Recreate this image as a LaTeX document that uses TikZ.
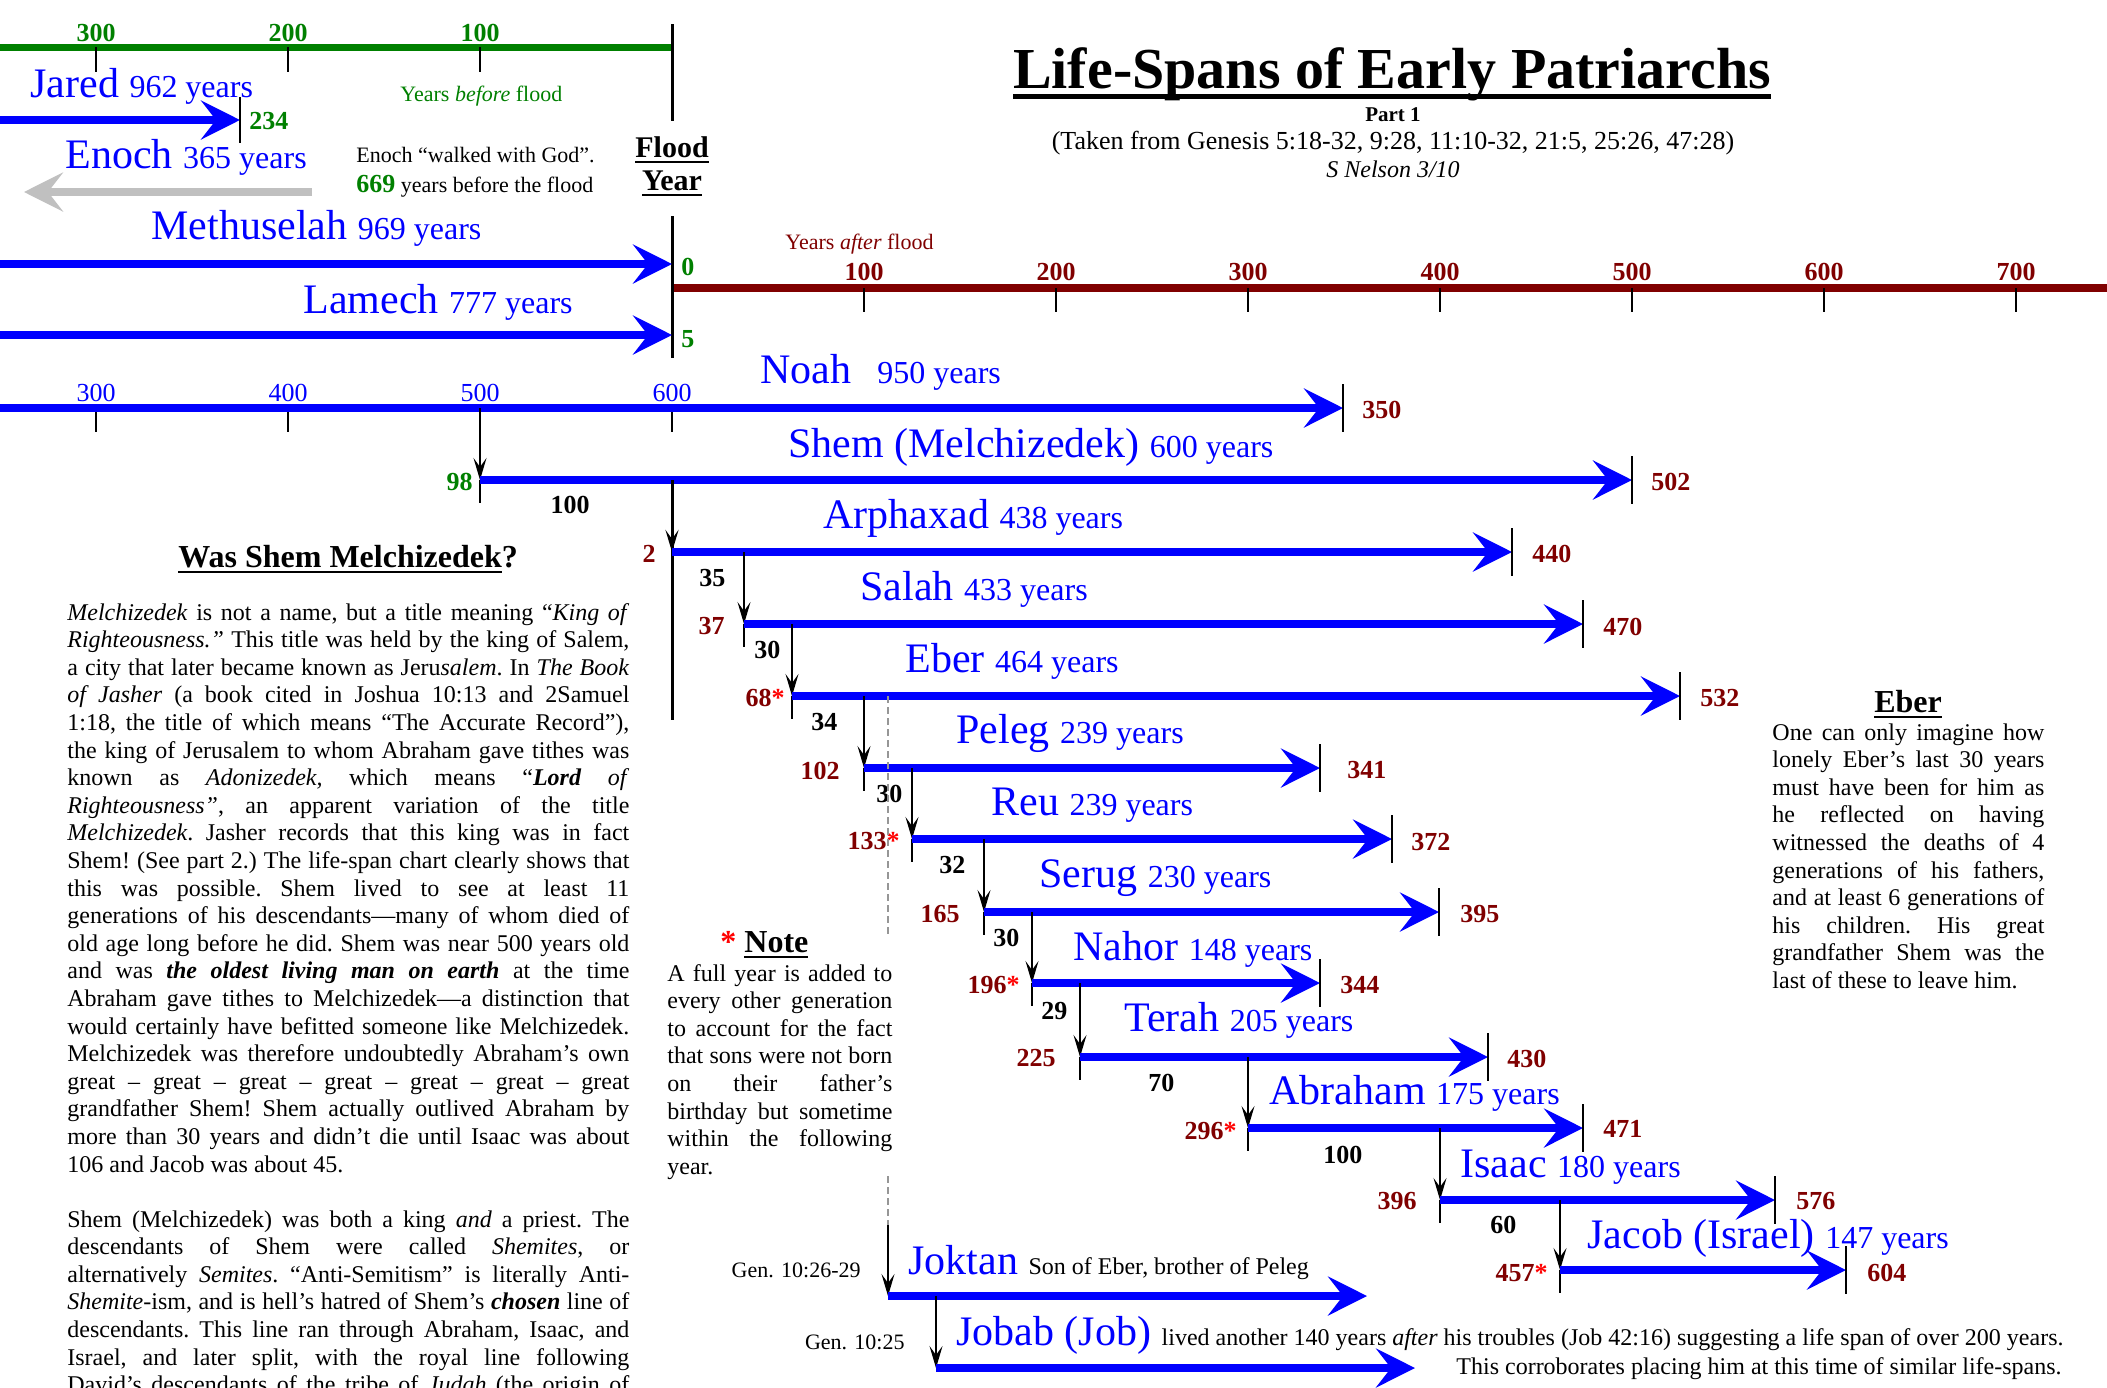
\documentclass[tikz,border=0pt]{standalone}
\usepackage{fontspec}
\setmainfont{Liberation Serif}
\usetikzlibrary{arrows.meta}

\definecolor{agered}{RGB}{128,0,0}
\definecolor{floodgreen}{RGB}{0,128,0}
\definecolor{enochgray}{RGB}{192,192,192}
\definecolor{dashgray}{RGB}{150,150,150}

\newcommand{\namefont}{\fontsize{21}{25}\selectfont}
\newcommand{\yearfont}{\fontsize{16}{19}\selectfont}
\newcommand{\numfont}{\fontsize{13}{15}\selectfont\bfseries}
\newcommand{\smallfont}{\fontsize{11}{13}\selectfont}
\newcommand{\bodyfont}{\fontsize{12}{13.8}\selectfont\frenchspacing}
\newcommand{\headfont}{\fontsize{16}{19}\selectfont\bfseries}
\newcommand{\adj}{\textcolor{red}{*}} % a year added

\newsavebox{\rulebox}
\newcommand{\ruled}[3]{% #1: depth of rule, #2: thickness, #3: text
    \sbox{\rulebox}{#3}\rlap{\rule[-#1]{\wd\rulebox}{#2}}\usebox{\rulebox}}
\newcommand{\jline}[1]{\makebox[\linewidth][s]{#1}\par} % one justified line

\begin{document}
\begin{tikzpicture}[
    x=0.5pt, y=-0.5pt,
    life/.style={blue, line width=4pt, -{Stealth[length=19.5pt, width=19.5pt, inset=7.5pt]}},
    taken/.style={life, enochgray},
    drop/.style={black, line width=0.75pt, -{Stealth[length=11pt, width=6.5pt, inset=4.5pt]}},
    endtick/.style={black, line width=0.75pt},
    floodline/.style={black, line width=1.5pt},
    hint/.style={dashgray, line width=0.6pt, dash pattern=on 3.3pt off 2.2pt},
    who/.style={anchor=base west, inner sep=0pt, text=blue},
    death/.style={anchor=base west, inner sep=0pt, text=agered, font=\numfont},
    birth/.style={anchor=base east, inner sep=0pt, text=agered, font=\numfont},
    gapnum/.style={anchor=base west, inner sep=0pt, font=\numfont},
    textline/.style={anchor=base west, inner sep=0pt, font=\smallfont},
    axislabel/.style={anchor=base, inner sep=0pt, font=\numfont}
]

    % Page
    \fill[white] (0,0) rectangle (2107,1387);
    \useasboundingbox (0,0) rectangle (2107,1387);

    % Title block
    \node[anchor=base, inner sep=0pt, font=\fontsize{29}{34}\selectfont\bfseries] (title) at (1392,88) {\ruled{5.5pt}{2.5pt}{Life-Spans of Early Patriarchs}};
    \node[anchor=base, inner sep=0pt, font=\fontsize{10.5}{12}\selectfont\bfseries] (part) at (1393,121) {Part 1};
    \node[anchor=base, inner sep=0pt, font=\fontsize{13}{15}\selectfont] (source) at (1393,149) {(Taken from Genesis 5:18-32, 9:28, 11:10-32, 21:5, 25:26, 47:28)};
    \node[anchor=base, inner sep=0pt, font=\fontsize{12}{14}\selectfont\itshape] (author) at (1393,177) {S Nelson 3/10};

    % Years before flood
    \draw[floodgreen, line width=3.5pt] (0,47) -- (672,47);
    \foreach \x/\yr in {96/300, 288/200, 480/100} {
        \draw[endtick] (\x,47) -- (\x,72);
        \node[axislabel, text=floodgreen] (before\yr) at (\x,41) {\yr};
    }
    \node[textline, text=floodgreen] (beforelabel) at (400,101) {Years \textit{before} flood};

    % Years after flood
    \draw[agered, line width=3.8pt] (672,288) -- (2107,288);
    \foreach \k in {1,...,7} {
        \draw[endtick] (672+192*\k,288) -- (672+192*\k,312);
        \node[axislabel, text=agered] (after\k) at (672+192*\k,280) {\k00};
    }
    \node[textline, text=agered] (afterlabel) at (785,249) {Years \textit{after} flood};

    % Flood year
    \coordinate (floodA) at (672,24);
    \coordinate (floodB) at (672,121);
    \coordinate (floodC) at (672,216);
    \coordinate (floodD) at (672,358);
    \draw[floodline] (floodA) -- (floodB);
    \draw[floodline] (floodC) -- (floodD);
    \node[anchor=base, inner sep=0pt, font=\fontsize{15}{18}\selectfont\bfseries] (flood) at (672,157) {\ruled{3pt}{0.9pt}{Flood}};
    \node[anchor=base, inner sep=0pt, font=\fontsize{15}{18}\selectfont\bfseries] (floodyear) at (672,190) {\ruled{3pt}{0.9pt}{Year}};

    % Jared
    \coordinate (jaredS) at (0,120);
    \coordinate (jaredE) at (240,120);
    \draw[life] (jaredS) -- (jaredE);
    \draw[endtick] (jaredE) ++(0,-23) -- ++(0,46);
    \node[who] (jared) at (30,97) {\namefont Jared \yearfont 962 years};
    \node[gapnum, text=floodgreen] (jared-d) at (249,129) {234};

    % Enoch, taken by God
    \coordinate (enochS) at (312,192);
    \coordinate (enochE) at (24,192);
    \draw[taken] (enochS) -- (enochE);
    \node[who] (enoch) at (65,168) {\namefont Enoch \yearfont 365 years};
    \node[textline] (walked) at (356,162) {Enoch “walked with God”.};
    \node[textline] (walked2) at (356,192) {{\color{floodgreen}\numfont 669} years before the flood};

    % Methuselah and Lamech
    \coordinate (methuselahS) at (0,264);
    \coordinate (methuselahE) at (672,264);
    \draw[life] (methuselahS) -- (methuselahE);
    \node[who] (methuselah) at (151,239) {\namefont Methuselah \yearfont 969 years};
    \node[gapnum, text=floodgreen] (methuselah-d) at (681,275) {0};
    \coordinate (lamechS) at (0,335);
    \coordinate (lamechE) at (672,335);
    \draw[life] (lamechS) -- (lamechE);
    \node[who] (lamech) at (303,313) {\namefont Lamech \yearfont 777 years};
    \node[gapnum, text=floodgreen] (lamech-d) at (681,347) {5};

    % Noah with his own age scale
    \coordinate (noahS) at (0,408);
    \coordinate (noahE) at (1343,408);
    \foreach \x/\age in {96/300, 288/400, 480/500, 672/600} {
        \draw[endtick] (\x,408) -- (\x,432);
        \node[axislabel, text=blue, font=\fontsize{13}{15}\selectfont] (age\age) at (\x,401) {\age};
    }
    \draw[life] (noahS) -- (noahE);
    \draw[endtick] (noahE) ++(0,-24) -- ++(0,48);
    \node[who] (noah) at (760,383) {\namefont Noah\hspace{13pt}\yearfont 950 years};
    \node[death] (noah-d) at (1362,418) {350};

    % Shem
    \coordinate (shemS) at (480,480);
    \coordinate (shemE) at (1632,480);
    \draw[drop] (shemS |- noahS) -- (shemS);
    \draw[endtick] (shemS) -- ++(0,23);
    \draw[life] (shemS) -- (shemE);
    \draw[endtick] (shemE) ++(0,-24) -- ++(0,48);
    \node[who] (shem) at (788,457) {\namefont Shem (Melchizedek) \yearfont 600 years};
    \node[birth, text=floodgreen] (shem-b) at (473,490) {98};
    \node[gapnum, anchor=base] (shem-g) at (570,513) {100};
    \node[death] (shem-d) at (1651,490) {502};

    % Arphaxad, on the flood line
    \coordinate (arphaxadS) at (672,552);
    \coordinate (arphaxadE) at (1512,552);
    \coordinate (floodE) at (672,720);
    \draw[floodline] (arphaxadS |- shemS) -- (floodE);
    \draw[drop, line width=1.5pt] (arphaxadS |- shemS) -- (arphaxadS);
    \draw[life] (arphaxadS) -- (arphaxadE);
    \draw[endtick] (arphaxadE) ++(0,-24) -- ++(0,48);
    \node[who] (arphaxad) at (823,528) {\namefont Arphaxad \yearfont 438 years};
    \node[birth] (arphaxad-b) at (656,562) {2};
    \node[death] (arphaxad-d) at (1532,562) {440};

    % Line from Arphaxad to Jacob
    \foreach \who/\up/\x/\y/\xe in {
        salah/arphaxad/744/624/1583,
        eber/salah/792/696/1680,
        peleg/eber/864/768/1320,
        reu/peleg/912/839/1392,
        serug/reu/984/912/1439,
        nahor/serug/1032/983/1320,
        terah/nahor/1080/1057/1488,
        abraham/terah/1248/1128/1583,
        isaac/abraham/1440/1200/1775,
        jacob/isaac/1560/1270/1846} {
        \coordinate (\who S) at (\x,\y);
        \coordinate (\who E) at (\xe,\y);
        \draw[drop] (\who S |- \up S) -- (\who S);
        \draw[endtick] (\who S) -- ++(0,23);
        \draw[life] (\who S) -- (\who E);
        \draw[endtick] (\who E) ++(0,-24) -- ++(0,48);
    }

    % Names
    \node[who] (salah) at (860,600) {\namefont Salah \yearfont 433 years};
    \node[who] (eber) at (905,672) {\namefont Eber \yearfont 464 years};
    \node[who] (peleg) at (956,743) {\namefont Peleg \yearfont 239 years};
    \node[who] (reu) at (991,815) {\namefont Reu \yearfont 239 years};
    \node[who] (serug) at (1039,887) {\namefont Serug \yearfont 230 years};
    \node[who] (nahor) at (1073,960) {\namefont Nahor \yearfont 148 years};
    \node[who] (terah) at (1124,1031) {\namefont Terah \yearfont 205 years};
    \node[who] (abraham) at (1269,1104) {\namefont Abraham \yearfont 175 years};
    \node[who] (isaac) at (1460,1177) {\namefont Isaac \yearfont 180 years};
    \node[who] (jacob) at (1587,1248) {\namefont Jacob (Israel) \yearfont 147 years};

    % Age of father at birth
    \node[gapnum] (salah-g) at (699,586) {35};
    \node[gapnum] (eber-g) at (754,658) {30};
    \node[gapnum] (peleg-g) at (811,730) {34};
    \node[gapnum] (reu-g) at (876,802) {30};
    \node[gapnum] (serug-g) at (939,873) {32};
    \node[gapnum] (nahor-g) at (993,946) {30};
    \node[gapnum] (terah-g) at (1041,1019) {29};
    \node[gapnum] (abraham-g) at (1148,1091) {70};
    \node[gapnum] (isaac-g) at (1323,1163) {100};
    \node[gapnum] (jacob-g) at (1490,1233) {60};

    % Births after flood
    \node[birth] (salah-b) at (725,634) {37};
    \node[birth] (eber-b) at (785,706) {68\adj};
    \node[birth] (peleg-b) at (840,779) {102};
    \node[birth] (reu-b) at (900,849) {133\adj};
    \node[birth] (serug-b) at (960,922) {165};
    \node[birth] (nahor-b) at (1020,993) {196\adj};
    \node[birth] (terah-b) at (1056,1066) {225};
    \node[birth] (abraham-b) at (1237,1139) {296\adj};
    \node[birth] (isaac-b) at (1417,1209) {396};
    \node[birth] (jacob-b) at (1548,1281) {457\adj};

    % Deaths after flood
    \node[death] (salah-d) at (1603,635) {470};
    \node[death] (eber-d) at (1700,706) {532};
    \node[death] (peleg-d) at (1347,778) {341};
    \node[death] (reu-d) at (1411,850) {372};
    \node[death] (serug-d) at (1460,922) {395};
    \node[death] (nahor-d) at (1340,993) {344};
    \node[death] (terah-d) at (1507,1067) {430};
    \node[death] (abraham-d) at (1603,1137) {471};
    \node[death] (isaac-d) at (1796,1209) {576};
    \node[death] (jacob-d) at (1867,1281) {604};

    % Joktan and Jobab
    \coordinate (hintA) at (888,935);
    \coordinate (hintB) at (888,1176);
    \coordinate (hintC) at (888,1225);
    \coordinate (joktanS) at (888,1296);
    \coordinate (joktanE) at (1367,1296);
    \coordinate (jobabS) at (936,1368);
    \coordinate (jobabE) at (1415,1368);
    \draw[hint] (hintA |- eberS) -- (hintA);
    \draw[hint] (hintB) -- (hintC);
    \draw[drop] (hintC) -- (joktanS);
    \draw[life] (joktanS) -- (joktanE);
    \draw[drop] (jobabS |- joktanS) -- (jobabS);
    \draw[life] (jobabS) -- (jobabE);
    \node[who] (joktan) at (908,1274) {\namefont Joktan {\fontsize{12}{14}\selectfont\color{black}Son of Eber, brother of Peleg}};
    \node[anchor=base east, inner sep=0pt, font=\smallfont] (joktan-ref) at (861,1277) {Gen. 10:26-29};
    \node[who] (jobab) at (956,1345) {\namefont Jobab (Job) {\fontsize{12}{14}\selectfont\color{black}lived another 140 years \textit{after} his troubles (Job 42:16) suggesting a life span of over 200 years.}};
    \node[anchor=base east, inner sep=0pt, font=\fontsize{12}{14}\selectfont] (jobab-more) at (2062,1374) {This corroborates placing him at this time of similar life-spans.};
    \node[anchor=base east, inner sep=0pt, font=\smallfont] (jobab-ref) at (905,1349) {Gen. 10:25};

    % Was Shem Melchizedek?
    \node[anchor=base west, inner sep=0pt, font=\headfont] (melchhead) at (178,567) {\ruled{3.2pt}{1.1pt}{Was Shem Melchizedek}?};
    \node[anchor=base west, inner sep=0pt] (melchtext) at (67,620) {\parbox[t]{281pt}{\bodyfont
        \jline{\textit{Melchizedek} is not a name, but a title meaning “\textit{King of}}
        \jline{\textit{Righteousness.”} This title was held by the king of Salem,}
        \jline{a city that later became known as Jeru\textit{salem}. In \textit{The Book}}
        \jline{\textit{of Jasher} (a book cited in Joshua 10:13 and 2Samuel}
        \jline{1:18, the title of which means “The Accurate Record”),}
        \jline{the king of Jerusalem to whom Abraham gave tithes was}
        \jline{known as \textit{Adonizedek,} which means “\textbf{\textit{Lord}} \textit{of}}
        \jline{\textit{Righteousness”}, an apparent variation of the title}
        \jline{\textit{Melchizedek}. Jasher records that this king was in fact}
        \jline{Shem! (See part 2.) The life-span chart clearly shows that}
        \jline{this was possible. Shem lived to see at least 11}
        \jline{generations of his descendants—many of whom died of}
        \jline{old age long before he did. Shem was near 500 years old}
        \jline{and was \textbf{\textit{the oldest living man on earth}} at the time}
        \jline{Abraham gave tithes to Melchizedek—a distinction that}
        \jline{would certainly have befitted someone like Melchizedek.}
        \jline{Melchizedek was therefore undoubtedly Abraham’s own}
        \jline{great – great – great – great – great – great – great}
        \jline{grandfather Shem! Shem actually outlived Abraham by}
        \jline{more than 30 years and didn’t die until Isaac was about}
        106 and Jacob was about 45.}};
    \node[anchor=base west, inner sep=0pt] (melchtext2) at (67,1227) {\parbox[t]{281pt}{\bodyfont
        \jline{Shem (Melchizedek) was both a king \textit{and} a priest. The}
        \jline{descendants of Shem were called \textit{Shemites}, or}
        \jline{alternatively \textit{Semites}. “Anti-Semitism” is literally Anti-}
        \jline{\textit{Shemite}-ism, and is hell’s hatred of Shem’s \textbf{\textit{chosen}} line of}
        \jline{descendants. This line ran through Abraham, Isaac, and}
        \jline{Israel, and later split, with the royal line following}
        \jline{David’s descendants of the tribe of \textit{Judah} (the origin of}}};

    % Note
    \node[anchor=base west, inner sep=0pt, font=\headfont] (notehead) at (720,952) {\textcolor{red}{*}~\ruled{3pt}{1.1pt}{Note}};
    \node[anchor=base west, inner sep=0pt] (notetext) at (667,981) {\parbox[t]{112.5pt}{\bodyfont
        \jline{A full year is added to}
        \jline{every other generation}
        \jline{to account for the fact}
        \jline{that sons were not born}
        \jline{on their father’s}
        \jline{birthday but sometime}
        \jline{within the following}
        year.}};

    % Eber
    \node[anchor=base, inner sep=0pt, font=\headfont] (eberhead) at (1908,712) {\ruled{3pt}{1.1pt}{Eber}};
    \node[anchor=base west, inner sep=0pt] (ebertext) at (1772,740) {\parbox[t]{136pt}{\bodyfont
        \jline{One can only imagine how}
        \jline{lonely Eber’s last 30 years}
        \jline{must have been for him as}
        \jline{he reflected on having}
        \jline{witnessed the deaths of 4}
        \jline{generations of his fathers,}
        \jline{and at least 6 generations of}
        \jline{his children. His great}
        \jline{grandfather Shem was the}
        last of these to leave him.}};

\end{tikzpicture}
\end{document}
